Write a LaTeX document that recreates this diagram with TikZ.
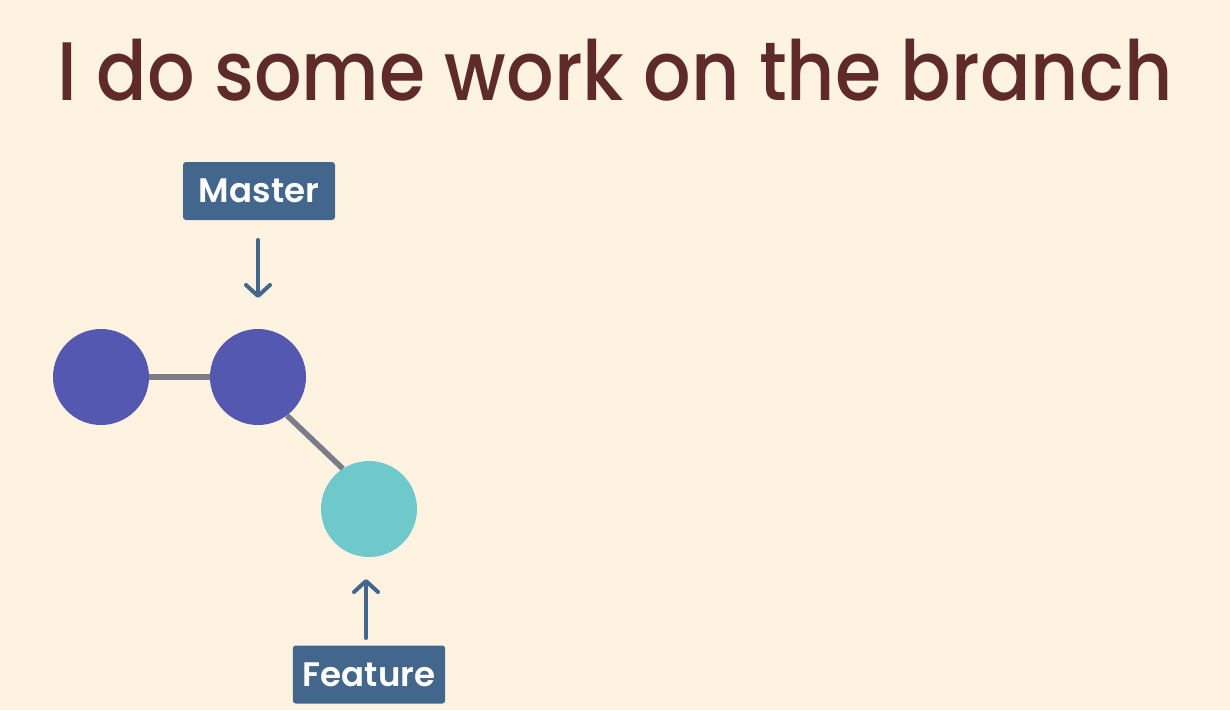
\documentclass[tikz,border=0pt]{standalone}
\usepackage{fontspec}
\setmainfont{Poppins}
\newfontfamily\titlefont{Poppins Medium}
\newfontfamily\labelfont{Poppins SemiBold}
\usetikzlibrary{arrows.meta}
\definecolor{bg}{HTML}{FEF2E1}
\definecolor{titlec}{HTML}{5E2A2A}
\definecolor{lbl}{HTML}{43668C}
\definecolor{commit}{HTML}{5558B0}
\definecolor{feat}{HTML}{6FC9CB}
\definecolor{edge}{HTML}{7A7D87}
\tikzset{
  commitnode/.style={circle, fill=commit, minimum size=96pt, inner sep=0pt},
  featnode/.style={circle, fill=feat, minimum size=96pt, inner sep=0pt},
  edgeline/.style={draw=edge, line width=5.5pt},
  labelbox/.style={fill=lbl, text=white, rounded corners=3pt, font=\fontsize{34}{40}\labelfont, minimum height=58pt, inner xsep=10pt, inner ysep=0pt},
  pointer/.style={draw=lbl, line width=4pt, line cap=round, -{Straight Barb[round, length=11pt, width=24pt]}}
}
\begin{document}
\begin{tikzpicture}[x=1pt, y=-1pt]
\fill[bg] (0,0) rectangle (1230,710);
\useasboundingbox (0,0) rectangle (1230,710);
\node[anchor=base, text=titlec, inner sep=0pt, xscale=0.90, font=\fontsize{83}{90}\titlefont] (title) at (615,100) {I do some work on the branch};
\draw[edgeline] (101,377) coordinate (e1) -- (258,377) coordinate (e2);
\node[commitnode] (c1) at (101,377) {};
\node[commitnode] (c2) at (258,377) {};
\node[featnode] (c3) at (369,509) {};
\draw[edgeline] (c2.-53) -- (c3.123);
\node[labelbox, minimum width=152pt] (master) at (259,191) {Master};
\node[labelbox, minimum width=152pt] (feature) at (369,674.5) {Feature};
\coordinate (mtip) at (258,298);
\coordinate (ftip) at (366,579);
\draw[pointer] (258,240) -- (mtip);
\draw[pointer] (366,638) -- (ftip);
\end{tikzpicture}
\end{document}
